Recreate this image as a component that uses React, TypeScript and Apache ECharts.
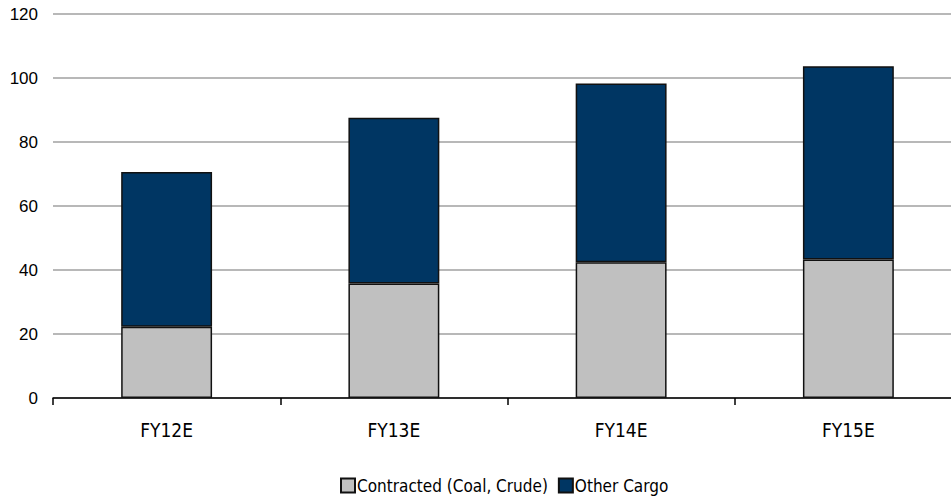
import React, { useEffect, useRef } from "react";
import * as echarts from "echarts";

const categories = ["FY12E", "FY13E", "FY14E", "FY15E"];
const contracted = [22.3, 35.8, 42.4, 43.3];
const otherCargo = [48.3, 51.8, 55.9, 60.4];
const seriesNames = ["Contracted (Coal, Crude)", "Other Cargo"];
const yTicks = { min: 0, max: 120, interval: 20 };

const FONT = "'Liberation Sans', Arial, sans-serif";
const NARROW = "'Liberation Sans Narrow', 'DejaVu Sans Condensed', 'Liberation Sans', sans-serif";

export default function App() {
  const ref = useRef<HTMLDivElement>(null);
  useEffect(() => {
    document.body.style.margin = "0";
    const chart = echarts.init(ref.current!, null, { renderer: "svg" });
    chart.setOption({
      animation: false,
      textStyle: { fontFamily: FONT },
      grid: { left: 53, top: 14, width: 909, height: 384 },
      legend: {
        left: 335,
        top: 472,
        padding: 5,
        icon: "rect",
        itemWidth: 14,
        itemHeight: 14,
        itemGap: 10,
        textStyle: { fontFamily: NARROW, fontSize: 17, color: "#000", padding: [0, 0, 0, -3] },
        data: seriesNames,
      },
      xAxis: {
        type: "category",
        data: categories,
        boundaryGap: true,
        axisLine: { lineStyle: { color: "#000", width: 1.5 } },
        axisTick: { show: true, length: 7, lineStyle: { color: "#000", width: 1.5 } },
        axisLabel: { color: "#000", fontSize: 19, margin: 22, fontFamily: NARROW },
      },
      yAxis: {
        type: "value",
        min: yTicks.min,
        max: yTicks.max,
        interval: yTicks.interval,
        axisLine: { show: false },
        axisTick: { show: false },
        axisLabel: { color: "#000", fontSize: 17, margin: 15, fontFamily: FONT },
        splitLine: { lineStyle: { color: "#a0a0a0", width: 1.5 } },
      },
      series: [
        {
          name: seriesNames[0],
          type: "bar",
          stack: "total",
          data: contracted,
          barWidth: "40%",
          itemStyle: { color: "#c0c0c0", borderColor: "#111", borderWidth: 1.5 },
        },
        {
          name: seriesNames[1],
          type: "bar",
          stack: "total",
          data: otherCargo,
          barWidth: "40%",
          itemStyle: { color: "#003663", borderColor: "#111", borderWidth: 1.5 },
        },
      ],
    });
    return () => chart.dispose();
  }, []);
  return (
    <div style={{ width: 951, height: 496, overflow: "hidden" }}>
      <div ref={ref} style={{ width: 980, height: 496 }} />
    </div>
  );
}
